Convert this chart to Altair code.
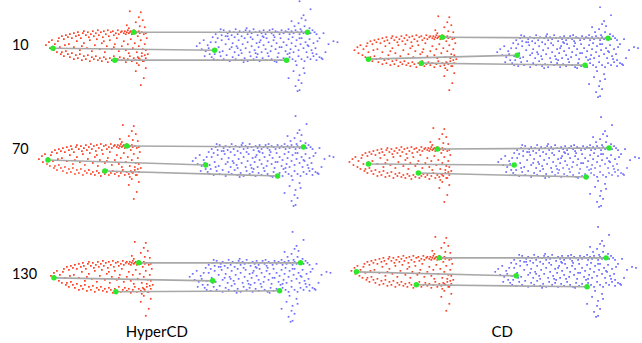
import altair as alt
import pandas as pd

# Panels in reading order
ROWS = ["10", "10", "70", "70", "130", "130"]
COLS = ["HyperCD", "CD", "HyperCD", "CD", "HyperCD", "CD"]

# Green correspondence points per panel (panel-local units)
red_top_x = [96, 100, 89, 95, 101, 97]
red_top_y = [31, 36, 32, 35, 36, 31]
red_tip_x = [15, 26, 10, 26, 16, 14]
red_tip_y = [47, 58, 46, 50, 51, 45]
red_bot_x = [77, 79, 67, 76, 78, 74]
red_bot_y = [59, 62, 57, 59, 65, 58]
blue_top_x = [270, 266, 266, 267, 263, 264]
blue_top_y = [31, 37, 33, 34, 36, 31]
blue_mid_x = [177, 175, 168, 172, 175, 174]
blue_mid_y = [49, 54, 51, 51, 54, 49]
blue_bot_x = [249, 243, 240, 244, 242, 245]
blue_bot_y = [59, 64, 62, 63, 64, 60]

# Row labels (left of the HyperCD panels) and column labels (under the bottom panels)
ROW_LABELS = ["10", "70", "130"]
ROW_LABEL_Y = [45, 36, 48]
COL_LABELS = ["HyperCD", "CD"]
COL_LABEL_X = [119, 160]

# Red (source) cloud, relative to its top green point
RED = [
    (-75,6),(-72,4),(-70,7),(-68,3),(-66,5),(-64,2),(-62,6),(-60,1),(-58,4),(-56,0),(-55,3),(-53,6),
    (-51,1),(-50,-1),(-48,3),(-46,0),(-45,5),(-43,2),(-41,-1),(-40,4),(-38,1),(-36,-2),(-35,3),(-33,0),
    (-31,5),(-30,-1),(-28,2),(-26,-2),(-25,4),(-23,0),(-21,-1),(-20,3),(-18,1),(-16,-2),(-15,2),(-13,0),
    (-12,-1),(-10,1),(-9,-1),(-8,2),(-7,0),(-6,-2),(-5,1),(-4,0),(-3,-1),(-2,2),(-1,0),(1,-1),(2,1),(3,0),
    (5,-1),(6,1),(8,0),(10,2),(12,1),
    (-88,13),(-85,10),(-84,16),(-82,8),(-80,18),(-79,12),(-77,20),(-76,9),(-74,15),(-73,22),
    (-72,20),(-70,24),(-68,19),(-66,22),(-64,25),(-62,21),(-60,27),(-58,23),(-56,26),(-54,22),(-52,28),
    (-50,24),(-48,27),(-46,23),(-44,29),(-42,25),(-40,27),(-38,24),(-36,28),(-34,26),(-32,29),(-30,25),
    (-28,27),(-26,30),(-24,26),(-22,28),(-20,24),(-18,29),(-16,27),(-14,25),(-12,28),(-10,26),(-8,30),
    (-6,27),(-4,24),(-2,29),(0,26),(2,28),(4,25),(6,27),(8,24),(10,29),(12,26),(14,22),
    (-65,12),(-60,15),(-57,9),(-54,18),(-50,11),(-47,16),(-44,8),(-42,19),(-39,13),(-37,7),(-34,17),
    (-32,11),(-29,20),(-27,14),(-24,8),(-22,17),(-19,12),(-17,6),(-15,19),(-12,14),(-10,9),(-8,18),
    (-6,12),(-3,7),(-1,16),(1,11),(3,20),(5,14),(7,8),(9,17),(11,12),(13,6),(12,18),(-30,9),(-52,14),
    (-69,13),(-20,15),(-5,21),(4,4),(8,21),
    (-4,-21),(7,-20),(5,-15),(2,-10),(-7,-7),(6,-6),(-5,-4),(0,-2),(9,-12),(11,-5),
    (5,33),(2,39),(10,46),(7,53),(9,29),(5,26),(11,23),(12,36),(3,31),
]

# Blue (target) cloud, relative to its top green point
BLUE = [
    (-95,5),(-92,2),(-90,6),(-88,0),(-86,3),(-84,-2),(-82,4),(-80,1),(-78,-1),(-76,3),(-74,0),(-72,-3),
    (-70,2),(-68,-1),(-66,4),(-64,0),(-62,-2),(-60,2),(-58,-1),(-56,1),(-54,-3),(-52,0),(-50,3),(-48,-1),
    (-46,1),(-44,-2),(-42,2),(-40,0),(-38,-2),(-36,1),(-34,3),(-32,-1),(-30,0),(-28,2),(-26,-2),(-24,1),
    (-22,-1),(-20,0),(-18,2),(-16,-1),(-14,1),(-12,-2),(-10,0),(-8,2),(-6,-1),(-4,1),(-2,0),(0,-1),(3,1),
    (5,-2),(7,0),(-87,-3),(-61,-4),(-35,-3),(-19,-3),(-45,4),(-73,5),
    (-111,14),(-108,11),(-106,17),(-104,8),(-102,19),(-100,13),(-98,22),(-97,10),(-99,16),(-103,24),(-94,27),
    (-96,25),(-93,22),(-90,28),(-87,24),(-84,27),(-81,23),(-78,29),(-75,25),(-72,27),(-69,23),(-66,28),
    (-63,26),(-60,29),(-57,24),(-54,27),(-51,25),(-48,29),(-45,26),(-42,28),(-39,24),(-36,27),(-33,29),
    (-30,25),(-27,28),(-24,26),(-21,29),(-18,25),(-15,27),(-12,29),(-9,24),(-6,27),(-3,29),(0,25),(3,27),
    (6,24),(9,28),(12,25),(15,27),(-31,30),(-64,30),(-50,22),(-20,22),
    (-92,10),(-89,15),(-86,8),(-85,19),(-82,12),(-79,7),(-78,17),(-75,11),(-73,20),(-71,14),(-69,8),
    (-67,18),(-65,12),(-63,6),(-62,16),(-60,10),(-58,20),(-56,14),(-55,7),(-53,18),(-51,11),(-49,15),
    (-47,8),(-46,20),(-44,13),(-42,17),(-41,6),(-39,10),(-37,19),(-36,14),(-34,8),(-32,17),(-31,11),
    (-29,21),(-27,6),(-26,15),(-24,10),(-22,19),(-21,13),(-19,7),(-17,17),(-16,11),(-14,20),(-12,14),
    (-11,8),(-9,18),(-7,12),(-6,6),(-4,16),(-2,10),(-1,20),(1,14),(2,7),(4,18),(6,11),(8,16),(10,9),
    (-88,20),(-80,4),(-66,21),(-57,5),(-48,10),(-40,21),(-28,15),(-18,21),(-8,6),(0,13),(-70,16),
    (-52,21),(-33,5),(-15,5),(5,21),(-94,18),(-76,15),(-44,5),
    (9,2),(16,1),(21,12),(26,9),(30,10),(14,26),(9,22),(12,6),(18,20),
    (-8,-31),(3,-23),(-4,-17),(-6,-14),(-2,-12),(-16,-11),(-9,-9),(-13,-6),(-3,-6),(-7,-3),(2,-4),
    (-11,33),(-4,36),(-14,39),(-8,43),(-9,48),(-6,51),(-12,54),(-8,58),(-10,59),(-19,46),(-3,41),
]

cloud_rows, line_rows, green_rows, label_rows = [], [], [], []
for i in range(len(ROWS)):
    r, c = ROWS[i], COLS[i]
    for dx, dy in RED:
        cloud_rows.append(dict(row=r, col=c, x=red_top_x[i] + dx, y=red_top_y[i] + dy, kind="source"))
    for dx, dy in BLUE:
        cloud_rows.append(dict(row=r, col=c, x=blue_top_x[i] + dx, y=blue_top_y[i] + dy, kind="target"))
    pairs = [
        ((red_top_x[i], red_top_y[i]), (blue_top_x[i], blue_top_y[i])),
        ((red_tip_x[i], red_tip_y[i]), (blue_mid_x[i], blue_mid_y[i])),
        ((red_bot_x[i], red_bot_y[i]), (blue_bot_x[i], blue_bot_y[i])),
    ]
    for k, (a, b) in enumerate(pairs):
        for p in (a, b):
            line_rows.append(dict(row=r, col=c, x=p[0], y=p[1], pair=k))
            green_rows.append(dict(row=r, col=c, x=p[0], y=p[1]))

for lab, ly in zip(ROW_LABELS, ROW_LABEL_Y):
    label_rows.append(dict(row=lab, col="HyperCD", x=-26, y=ly, text=lab, layer="rowlabel"))
for lab, lx in zip(COL_LABELS, COL_LABEL_X):
    label_rows.append(dict(row="130", col=lab, x=lx, y=105, text=lab, layer="collabel"))

df = pd.concat([
    pd.DataFrame(cloud_rows).assign(layer="cloud"),
    pd.DataFrame(line_rows).assign(layer="line", kind="match"),
    pd.DataFrame(green_rows).assign(layer="green", kind="match"),
    pd.DataFrame(label_rows),
], ignore_index=True)

W, H = 300, 95
xs = alt.Scale(domain=[0, W], nice=False, zero=False)
ys = alt.Scale(domain=[0, H], nice=False, zero=False, reverse=True)

base = alt.Chart().encode(
    x=alt.X("x:Q", scale=xs, axis=None),
    y=alt.Y("y:Q", scale=ys, axis=None),
)

pts = base.transform_filter(alt.datum.layer == "cloud").mark_square(size=3, opacity=1).encode(
    color=alt.Color("kind:N", scale=alt.Scale(domain=["source", "target"], range=["#fa4428", "#6e6eff"]), legend=None)
)
lines = base.transform_filter(alt.datum.layer == "line").mark_line(color="#a8a8a8", strokeWidth=1.6).encode(
    detail="pair:N"
)
greens = base.transform_filter(alt.datum.layer == "green").mark_circle(size=30, color="#2ee82e", opacity=1)
rowlab = base.transform_filter(alt.datum.layer == "rowlabel").mark_text(
    align="left", baseline="middle", font="Lato", fontSize=14.5, color="black"
).encode(text="text:N")
collab = base.transform_filter(alt.datum.layer == "collabel").mark_text(
    align="center", baseline="middle", font="Lato", fontSize=15, color="black"
).encode(text="text:N")

layered = alt.layer(pts, lines, greens, rowlab, collab).properties(width=W, height=H)

chart = layered.facet(
    data=df,
    row=alt.Row("row:N", sort=["10", "70", "130"], header=None),
    column=alt.Column("col:N", sort=["HyperCD", "CD"], header=None),
    spacing={"row": 18, "column": 5},
).properties(
    bounds="flush",
    padding={"left": 12, "top": 0, "right": 0, "bottom": 0}
).configure_view(stroke=None, strokeWidth=0)

chart.save("out.html", embed_options={"renderer": "svg", "actions": False})
